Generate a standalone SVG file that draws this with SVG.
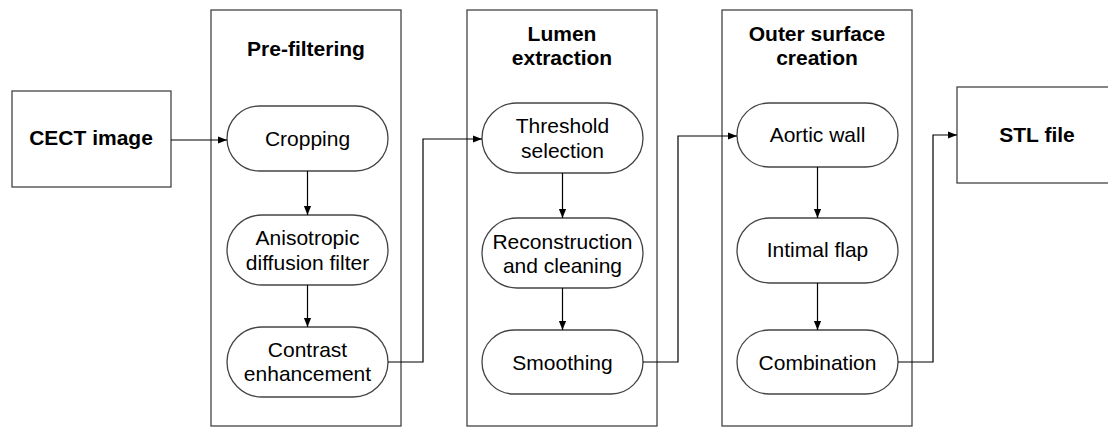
<svg xmlns="http://www.w3.org/2000/svg" width="1108" height="427" viewBox="0 0 1108 427">
<defs>
<marker id="ah" viewBox="0 0 10 10" refX="10" refY="5" markerWidth="9" markerHeight="9" markerUnits="userSpaceOnUse" orient="auto">
<path d="M0,1 L10,5 L0,9 Z" fill="#000"/>
</marker>
<style>
.box{fill:#fff;stroke:#444;stroke-width:1.3}
.pill{fill:#fff;stroke:#444;stroke-width:1.3}
.t{font-family:"Liberation Sans",Arial,sans-serif;font-size:21px;fill:#000;text-anchor:middle}
.b{font-family:"Liberation Sans",Arial,sans-serif;font-size:21px;font-weight:bold;fill:#000;text-anchor:middle}
.c{fill:none;stroke:#000;stroke-width:1.2;marker-end:url(#ah)}
</style>
</defs>
<rect width="1108" height="427" fill="#fff"/>
<g id="panel-prefiltering">
<rect class="box" x="211" y="10" width="190" height="416"/>
<text class="b" x="306" y="56">Pre-filtering</text>
</g>
<g id="panel-lumen">
<rect class="box" x="467" y="10" width="190" height="416"/>
<text class="b" x="562" y="41">Lumen</text>
<text class="b" x="562" y="65">extraction</text>
</g>
<g id="panel-outer">
<rect class="box" x="722" y="10" width="190" height="416"/>
<text class="b" x="817" y="41">Outer surface</text>
<text class="b" x="817" y="65">creation</text>
</g>
<g id="cect">
<rect class="box" x="12" y="91" width="159" height="96"/>
<text class="b" x="91" y="145">CECT image</text>
</g>
<g id="stl">
<rect class="box" x="957" y="87" width="170" height="96"/>
<text class="b" x="1037" y="142">STL file</text>
</g>
<g id="cropping">
<rect class="pill" x="227" y="106" width="161" height="65" rx="32.5"/>
<text class="t" x="307.5" y="146">Cropping</text>
</g>
<g id="anisotropic">
<rect class="pill" x="227" y="215" width="161" height="70" rx="35"/>
<text class="t" x="307.5" y="245">Anisotropic</text>
<text class="t" x="307.5" y="270">diffusion filter</text>
</g>
<g id="contrast">
<rect class="pill" x="227" y="327" width="161" height="70" rx="35"/>
<text class="t" x="307.5" y="357">Contrast</text>
<text class="t" x="307.5" y="381">enhancement</text>
</g>
<g id="threshold">
<rect class="pill" x="482" y="103" width="161" height="70" rx="35"/>
<text class="t" x="562.5" y="133">Threshold</text>
<text class="t" x="562.5" y="158">selection</text>
</g>
<g id="reconstruction">
<rect class="pill" x="482" y="218" width="161" height="70" rx="35"/>
<text class="t" x="562.5" y="249">Reconstruction</text>
<text class="t" x="562.5" y="273">and cleaning</text>
</g>
<g id="smoothing">
<rect class="pill" x="482" y="330" width="161" height="64" rx="32"/>
<text class="t" x="562.5" y="370">Smoothing</text>
</g>
<g id="aortic">
<rect class="pill" x="737" y="103" width="161" height="64" rx="32"/>
<text class="t" x="817.5" y="142">Aortic wall</text>
</g>
<g id="intimal">
<rect class="pill" x="737" y="218" width="161" height="65" rx="32.5"/>
<text class="t" x="817.5" y="257">Intimal flap</text>
</g>
<g id="combination">
<rect class="pill" x="737" y="330" width="161" height="64" rx="32"/>
<text class="t" x="817.5" y="370">Combination</text>
</g>
<g id="connectors">
<path class="c" d="M171,140 L227,140"/>
<path class="c" d="M307.5,171 L307.5,215"/>
<path class="c" d="M307.5,285 L307.5,327"/>
<path class="c" d="M388,362 L423,362 L423,139 L482,139"/>
<path class="c" d="M562.5,173 L562.5,218"/>
<path class="c" d="M562.5,288 L562.5,330"/>
<path class="c" d="M643,362 L678,362 L678,136 L737,136"/>
<path class="c" d="M817.5,167 L817.5,218"/>
<path class="c" d="M817.5,283 L817.5,330"/>
<path class="c" d="M898,362 L933,362 L933,135 L957,135"/>
</g>
</svg>
